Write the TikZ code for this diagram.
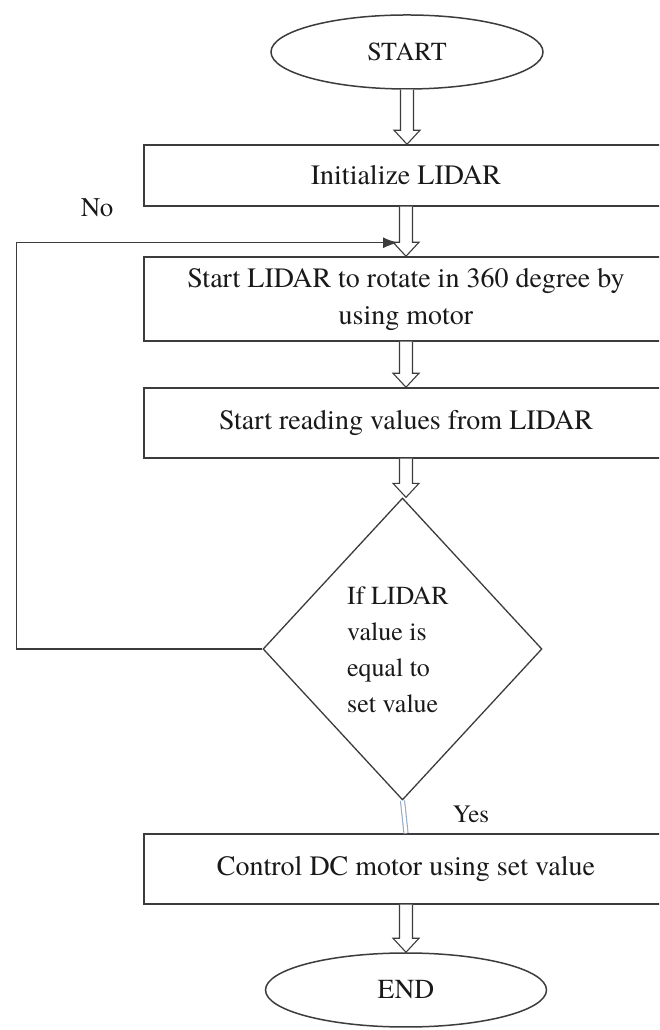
\documentclass[tikz,border=0pt]{standalone}
\usepackage{fontspec}
\setmainfont{TeX Gyre Termes}
\usetikzlibrary{shapes.geometric,arrows.meta,calc}
\definecolor{ln}{RGB}{60,60,60}
\definecolor{txt}{RGB}{25,25,25}
\definecolor{yesc}{RGB}{150,170,200}
\newcommand{\harr}[2]{\draw[harrow] let \p1=(#1),\p2=(#2) in
  (\x1-6.5pt,\y1) -- (\x1-6.5pt,\y2+14pt) -- (\x1-13pt,\y2+14pt) -- (\x1,\y2)
  -- (\x1+13pt,\y2+14pt) -- (\x1+6.5pt,\y2+14pt) -- (\x1+6.5pt,\y1);}
\begin{document}
\begin{tikzpicture}[x=1pt,y=1pt,
  box/.style={draw=ln,line width=1.5pt,rectangle,minimum width=524pt,text=txt,
    font=\fontsize{28}{37}\selectfont,align=center,inner sep=0pt},
  term/.style={draw=ln,line width=1.5pt,ellipse,text=txt,inner sep=0pt},
  dec/.style={draw=ln,line width=1.3pt,diamond,minimum width=279pt,minimum height=302pt,inner sep=0pt},
  harrow/.style={draw=ln,line width=1.1pt,fill=white,line join=miter},
  lbl/.style={text=txt,inner sep=0pt},
  loopline/.style={draw=ln,line width=1.5pt,-{Latex[length=15pt,width=11pt]}},
  yesline/.style={draw=yesc,line width=1.1pt,double=white,double distance=3pt}]
\useasboundingbox (0,0) rectangle (659,1030);
\clip (0,0) rectangle (659,1030);
\fill[white] (0,0) rectangle (659,1030);
\node[term,minimum width=272pt,minimum height=74pt,font=\fontsize{26}{30}\selectfont] (start) at (407,978) {START};
\node[box,minimum height=61pt] (init) at (406,854.5) {Initialize LIDAR};
\node[box,minimum height=84pt] (rot) at (406,731) {Start LIDAR to rotate in 360 degree by\\using motor};
\node[box,minimum height=70pt] (read) at (406,607) {Start reading values from LIDAR};
\node[dec] (dec) at (402.5,381) {};
\node[lbl,font=\fontsize{26}{36}\selectfont,align=left,anchor=west] (dtext) at (347,380) {If LIDAR\\value is\\equal to\\set value};
\node[box,minimum height=70pt] (ctrl) at (406,161) {Control DC motor using set value};
\node[term,minimum width=281pt,minimum height=74pt,font=\fontsize{27.5}{30}\selectfont] (end) at (406,40) {END};
\node[lbl,font=\fontsize{27}{30}\selectfont] (no) at (97,822) {No};
\node[lbl,font=\fontsize{25}{30}\selectfont] (yes) at (471,216) {Yes};
\harr{start.south}{init.north}
\harr{init.south}{rot.north}
\harr{rot.south}{read.north}
\harr{read.south}{dec.north}
\harr{ctrl.south}{end.north}
\draw[yesline] (dec.south) -- (ctrl.north);
\path (dec.west) -- ++(-246,0) coordinate (lbot);
\coordinate (lend) at ($(init.south)+(-8,-36)$);
\draw[loopline] (dec.west) -- (lbot) |- (lend);
\end{tikzpicture}
\end{document}
